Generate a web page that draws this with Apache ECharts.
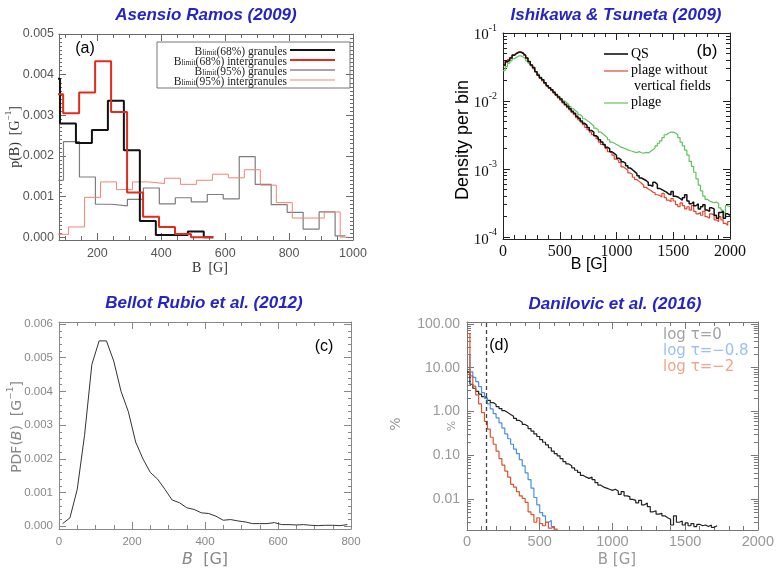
<!DOCTYPE html>
<html><head><meta charset="utf-8">
<script src="https://cdn.jsdelivr.net/npm/echarts@6/dist/echarts.min.js"></script>
<style>html,body{margin:0;padding:0;background:#fff}#c{width:777px;height:570px}</style>
</head><body><div id="c"></div>
<script>
// ---------- Panel (a) Asensio Ramos (2009) : step histograms ----------
const aBlack68Edges = [33,83,133,183,233,283,333,383,433,483,533,563];
const aBlack68Vals  = [0.0039,0.0028,0.00232,0.00264,0.00336,0.00214,0.0004,0.00005,0.00005,0.00014,0.0];
const aRed68Edges   = [43,93,143,193,243,293,343,393,443,493,543,563];
const aRed68Vals    = [0.00352,0.00305,0.00356,0.00433,0.00308,0.0011,0.0005,0.00025,0.00008,0.0,0.0];
const aGray95Edges  = [44,94,144,194,244,294,344,394,444,494,544,594,644,694,744,794,844,894,944,976];
const aGray95Vals   = [0.0014,0.00235,0.00148,0.00081,0.00077,0.00093,0.00121,0.00082,0.00097,0.00087,0.00105,0.00094,0.00198,0.0013,0.0008,0.00061,0.0002,0.00062,0.00003];
const aRed95Edges   = [60,110,160,210,260,310,360,410,460,510,560,610,660,710,760,810,860,910,960,985];
const aRed95Vals    = [0.00007,0.00025,0.00098,0.00136,0.00117,0.00136,0.00132,0.00145,0.0013,0.0014,0.00155,0.00146,0.00166,0.00128,0.00085,0.00047,0.00047,0.00062,0.0];
const aXLabels = [200,400,600,800,1000];
const aYLabels = [0,0.001,0.002,0.003,0.004,0.005];

// ---------- Panel (b) Ishikawa & Tsuneta (2009) : 20 G bins from 0 ----------
const bBinStart = 0, bBinWidth = 20;
const bQS = [0.034,0.038,0.040,0.043,0.047,0.050,0.052,0.052,0.050,0.047,
  0.043,0.038,0.034,0.031,0.027,0.024,0.022,0.0205,0.0185,0.0168,
  0.0157,0.0146,0.0135,0.0124,0.0115,0.0107,0.0097,0.0090,0.0084,0.0077,
  0.0071,0.0066,0.0060,0.0056,0.0051,0.0047,0.0044,0.0041,0.0037,0.0035,
  0.0031,0.0029,0.0027,0.0025,0.0023,0.0021,0.0020,0.0018,0.0017,0.0016,
  0.00145,0.00138,0.00128,0.00122,0.00112,0.00104,0.00098,0.00092,0.00086,0.0008,
  0.00074,0.00071,0.00068,0.00064,0.00058,0.00056,0.00064,0.0006,0.00052,0.0005,
  0.00048,0.00046,0.00043,0.00042,0.00047,0.0004,0.00039,0.00037,0.00035,0.00038,
  0.00042,0.00034,0.00031,0.00033,0.00029,0.00031,0.00026,0.00028,0.00030,0.00025,
  0.00024,0.00027,0.00026,0.00021,0.00019,0.00023,0.00024,0.00019,0.00022,0.00021];
const bPlageNoVert = [0.033,0.037,0.041,0.044,0.048,0.051,0.053,0.053,0.051,0.047,
  0.043,0.038,0.034,0.030,0.027,0.024,0.0215,0.0198,0.018,0.0165,
  0.0153,0.0142,0.0131,0.0121,0.0111,0.0103,0.0094,0.0087,0.0080,0.0074,
  0.0068,0.0063,0.0057,0.0053,0.0049,0.0045,0.0041,0.0038,0.0035,0.0032,
  0.0030,0.0028,0.0025,0.0023,0.0022,0.0020,0.0018,0.00175,0.0016,0.0014,
  0.00135,0.00125,0.00108,0.00102,0.00096,0.00088,0.00084,0.00076,0.0007,0.00066,
  0.00062,0.00058,0.00054,0.00051,0.00049,0.00046,0.00045,0.00042,0.00041,0.00039,
  0.00044,0.00038,0.00035,0.00033,0.00037,0.00034,0.0003,0.00028,0.00032,0.00029,
  0.00026,0.00028,0.00025,0.00029,0.00024,0.00022,0.00023,0.00021,0.00024,0.0002,
  0.00019,0.00022,0.00021,0.00018,0.00017,0.0002,0.00018,0.00016,0.00015,0.00017];
const bPlage = [0.028,0.032,0.036,0.039,0.042,0.044,0.046,0.046,0.044,0.042,
  0.039,0.036,0.033,0.030,0.027,0.025,0.0225,0.0205,0.0187,0.017,
  0.0158,0.0147,0.0137,0.0127,0.0117,0.0109,0.0101,0.0095,0.0089,0.0083,
  0.0077,0.0072,0.0068,0.0063,0.0059,0.0055,0.0052,0.0049,0.0046,0.0043,
  0.0040,0.0038,0.0035,0.0033,0.0031,0.0029,0.0027,0.0025,0.0024,0.0023,
  0.0022,0.0021,0.00205,0.00198,0.00192,0.00186,0.00183,0.00178,0.00175,0.00181,
  0.00174,0.00172,0.00176,0.00173,0.00182,0.00192,0.00205,0.0022,0.0024,0.0026,
  0.0029,0.0032,0.0034,0.0035,0.0035,0.0034,0.0032,0.0029,0.0025,0.0022,
  0.0019,0.0016,0.0013,0.0011,0.0009,0.00072,0.00058,0.00048,0.0004,0.00036,
  0.00034,0.00033,0.00032,0.00033,0.00031,0.00027,0.00025,0.00023,0.00029,0.00028];
const bXLabels = [0,500,1000,1500,2000];
const bYLabels = [1e-4,1e-3,1e-2,1e-1];

// ---------- Panel (c) Bellot Rubio et al. (2012) : points every 20 G from 10 G ----------
const cStart = 10, cStep = 20;
const cPDF = [0.00008,0.00025,0.0011,0.0027,0.0048,0.0055,0.0055,0.0049,0.0040,0.0034,
  0.0025,0.0020,0.0016,0.0014,0.0011,0.00078,0.0007,0.00055,0.0005,0.0004,
  0.00038,0.0003,0.00018,0.0002,0.00016,0.00013,0.00008,0.00008,0.00008,0.00011,
  0.00005,0.00005,0.00004,0.00005,0.00003,0.00002,0.00003,0.00003,0.00002,0.00005];
const cXLabels = [0,200,400,600,800];
const cYLabels = [0,0.001,0.002,0.003,0.004,0.005,0.006];

// ---------- Panel (d) Danilovic et al. (2016) : 20 G bins from 0, percent ----------
const dBinStart = 0, dBinWidth = 20;
const dTau0 = [8.0,4.2,3.4,2.9,2.5,2.2,2.0,1.8,1.6,1.45,
  1.3,1.17,1.05,0.95,0.86,0.78,0.70,0.63,0.57,0.51,
  0.46,0.41,0.36,0.31,0.27,0.23,0.20,0.175,0.15,0.125,
  0.11,0.098,0.085,0.072,0.064,0.058,0.052,0.046,0.041,0.035,
  0.032,0.030,0.032,0.028,0.024,0.021,0.019,0.018,0.017,0.016,
  0.017,0.0155,0.013,0.015,0.012,0.0115,0.010,0.0095,0.0083,0.0095,
  0.0075,0.0082,0.0068,0.0052,0.0055,0.0046,0.0048,0.0042,0.0038,0.0035,
  0.0026,0.0042,0.0030,0.0032,0.0026,0.0029,0.0025,0.0028,0.0024,0.0027,
  0.0025,0.0026,0.0024,0.0026,0.0023,0.0025];
const dTau08 = [20,8.0,6.0,4.8,3.7,2.7,2.0,1.5,1.15,0.90,
  0.72,0.55,0.42,0.31,0.24,0.18,0.14,0.11,0.08,0.058,
  0.040,0.028,0.018,0.011,0.0075,0.0050,0.0042,0.0030,0.0033,0.0024,0.0015];
const dTau2 = [60,6.5,3.8,2.4,1.5,0.95,0.60,0.40,0.26,0.18,
  0.125,0.085,0.060,0.044,0.032,0.022,0.019,0.015,0.012,0.0105,
  0.0085,0.0052,0.0045,0.0030,0.0038,0.0028,0.0025,0.0030,0.0022,0.0024,0.0021,0.0015];
const dCutB = 130;
const dXLabels = [0,500,1000,1500,2000];
const dYLabels = [0.01,0.1,1,10,100];

// ---------- helpers ----------
function stepFromEdges(edges, vals){
  const d = vals.map((v,i)=>[edges[i], v]);
  d.push([edges[edges.length-1], vals[vals.length-1]]);
  return d;
}
function stepFromBins(start, w, vals){
  const d = vals.map((v,i)=>[start+i*w, v]);
  d.push([start+vals.length*w, vals[vals.length-1]]);
  return d;
}
function range(a,b,s){const r=[];for(let v=a;v<=b+1e-9;v+=s)r.push(+v.toFixed(8));return r;}
function logMinors(lo,hi){const r=[];for(let e=lo;e<hi;e++){for(let k=2;k<=9;k++){r.push(+(k*Math.pow(10,e)).toPrecision(3));}}return r;}

const xAxes=[], yAxes=[];
function addAxes(list, dim, grid, o){
  const pos = dim==='x'?['bottom','top']:['left','right'];
  const ls = {color:o.color, width:o.lw||1};
  const base = {gridIndex:grid, type:o.type||'value', min:o.min, max:o.max, splitLine:{show:false}, silent:true};
  if (o.type==='log') base.logBase = 10;
  const idx = list.length;
  list.push(Object.assign({}, base, {position:pos[0],
    axisLine:{show:true,onZero:false,lineStyle:ls},
    axisTick:{show:true,inside:true,length:o.maj,customValues:o.majors,lineStyle:ls},
    axisLabel:Object.assign({show:true,customValues:o.majors,formatter:o.fmt,hideOverlap:false}, o.label)}));
  list.push(Object.assign({}, base, {position:pos[0],
    axisLine:{show:false,onZero:false},
    axisTick:{show:true,inside:true,length:o.min_,customValues:o.minors,lineStyle:ls},
    axisLabel:{show:false}}));
  list.push(Object.assign({}, base, {position:pos[1],
    axisLine:{show:true,onZero:false,lineStyle:ls},
    axisTick:{show:true,inside:true,length:o.maj,customValues:o.majors,lineStyle:ls},
    axisLabel:{show:false}}));
  list.push(Object.assign({}, base, {position:pos[1],
    axisLine:{show:false,onZero:false},
    axisTick:{show:true,inside:true,length:o.min_,customValues:o.minors,lineStyle:ls},
    axisLabel:{show:false}}));
  return idx;
}

const grids = [
  {left:59, top:34, width:294, height:206},
  {left:503, top:33, width:227, height:206},
  {left:59, top:322, width:292, height:207},
  {left:467, top:322, width:295, height:208}
];

const axA = addAxes(xAxes,'x',0,{min:80,max:1000,majors:aXLabels,minors:range(100,1000,50),maj:7,min_:4,color:'#6a6a6a',
  fmt:v=>String(v),label:{color:'#555',fontSize:12.5,fontFamily:'Liberation Sans',margin:7}});
const ayA = addAxes(yAxes,'y',0,{min:-0.00007,max:0.005,majors:aYLabels,minors:range(0,0.005,0.0001),maj:7,min_:3,color:'#6a6a6a',
  fmt:v=>v.toFixed(3),label:{color:'#555',fontSize:12.5,fontFamily:'Liberation Sans',margin:5}});
const axB = addAxes(xAxes,'x',1,{min:0,max:2000,majors:bXLabels,minors:range(0,2000,100),maj:7,min_:4,color:'#222',
  fmt:v=>String(v),label:{color:'#111',fontSize:16,fontFamily:'Liberation Serif',margin:5}});
const ayB = addAxes(yAxes,'y',1,{type:'log',min:9.4e-5,max:0.1,majors:bYLabels,minors:logMinors(-4,-1),maj:7,min_:4,color:'#222',
  fmt:v=>'{b|10}{s|'+Math.round(Math.log10(v))+'}',
  label:{color:'#111',margin:6,rich:{b:{fontSize:15,fontFamily:'Liberation Serif',lineHeight:20,verticalAlign:'bottom'},s:{fontSize:10,fontFamily:'Liberation Serif',lineHeight:10,verticalAlign:'top'}}}});
const axC = addAxes(xAxes,'x',2,{min:0,max:800,majors:cXLabels,minors:range(0,800,50),maj:7,min_:4,color:'#888',
  fmt:v=>String(v),label:{color:'#888',fontSize:11.5,fontFamily:'Liberation Sans',margin:7}});
const ayC = addAxes(yAxes,'y',2,{min:-0.00008,max:0.00606,majors:cYLabels,minors:range(0,0.006,0.0002),maj:7,min_:3,color:'#888',
  fmt:v=>v.toFixed(3),label:{color:'#888',fontSize:11.5,fontFamily:'Liberation Sans',margin:6}});
const axD = addAxes(xAxes,'x',3,{min:0,max:2000,majors:dXLabels,minors:range(0,2000,100),maj:7,min_:4,color:'#777',
  fmt:v=>String(v),label:{color:'#999',fontSize:14.5,fontFamily:'Liberation Sans',margin:4}});
const ayD = addAxes(yAxes,'y',3,{type:'log',min:0.002,max:110,majors:dYLabels,minors:logMinors(-3,2),maj:7,min_:4,color:'#777',
  fmt:v=>v.toFixed(2),label:{color:'#999',fontSize:14,fontFamily:'Liberation Sans',margin:7}});

function line(name, xi, yi, data, color, width, extra){
  return Object.assign({name, type:'line', xAxisIndex:xi, yAxisIndex:yi, data, showSymbol:false, symbol:'none',
    step:'end', animation:false, silent:true, clip:true, lineStyle:{color, width}, itemStyle:{color}}, extra||{});
}

const series = [
  line('Blimit(95%) granules', axA, ayA, stepFromEdges(aGray95Edges,aGray95Vals), '#7d7d7d', 1.2),
  line('Blimit(95%) intergranules', axA, ayA, stepFromEdges(aRed95Edges,aRed95Vals), '#f2837a', 1),
  line('Blimit(68%) granules', axA, ayA, stepFromEdges(aBlack68Edges,aBlack68Vals), '#111', 2),
  line('Blimit(68%) intergranules', axA, ayA, stepFromEdges(aRed68Edges,aRed68Vals), '#e52b1e', 2),

  line('plage', axB, ayB, stepFromBins(bBinStart,bBinWidth,bPlage), '#5ec45e', 1.2),
  line('plage without vertical fields', axB, ayB, stepFromBins(bBinStart,bBinWidth,bPlageNoVert), '#e8442c', 1.2),
  line('QS', axB, ayB, stepFromBins(bBinStart,bBinWidth,bQS), '#111', 1.5),

  line('PDF', axC, ayC, cPDF.map((v,i)=>[cStart+i*cStep, v]), '#333', 1, {step:false}),

  line('log tau=0', axD, ayD, stepFromBins(dBinStart,dBinWidth,dTau0), '#222', 1.2, {
    markLine:{symbol:'none',silent:true,animation:false,label:{show:false},
      lineStyle:{type:[4,3],color:'#444',width:1.3},data:[{xAxis:dCutB}]}}),
  line('log tau=-0.8', axD, ayD, stepFromBins(dBinStart,dBinWidth,dTau08), '#4a8fe6', 1.2),
  line('log tau=-2', axD, ayD, stepFromBins(dBinStart,dBinWidth,dTau2), '#e0532c', 1.2)
];

// ---------- text & legends ----------
const blue = '#2525c6';
function T(text,x,y,o){o=o||{};const st={text,x:0,y:0,fill:o.fill||'#000',fontSize:o.size||12,fontFamily:o.family||'Liberation Sans',
  fontWeight:o.weight||'normal',fontStyle:o.style||'normal',align:o.align||'center',verticalAlign:o.va||'middle'};
  if(o.rich)st.rich=o.rich;
  return {type:'text',x,y,rotation:o.rot||0,silent:true,z:100,style:st};}
function L(x1,y1,x2,y2,stroke,w){return {type:'line',silent:true,z:100,shape:{x1,y1,x2,y2},style:{stroke,lineWidth:w}};}
const titleStyle = {fill:blue,size:17,weight:'bold',style:'italic',family:'Liberation Sans'};
const subRich = {n:{fontSize:11.5,fontFamily:'Liberation Serif',fill:'#222',lineHeight:11,verticalAlign:'top'},
                 s:{fontSize:7.5,fontFamily:'Liberation Serif',fill:'#222',lineHeight:8,padding:[6,0,0,0],verticalAlign:'bottom'}};
const supRichA = {n:{fontSize:14,fontFamily:'Liberation Serif',fill:'#333',lineHeight:18,verticalAlign:'bottom'},
                  s:{fontSize:9,fontFamily:'Liberation Serif',fill:'#333',lineHeight:10,verticalAlign:'top'}};
const supRichC = {n:{fontSize:14,fontFamily:'DejaVu Sans',fill:'#888',lineHeight:18,verticalAlign:'bottom'},
                  i:{fontSize:14,fontFamily:'DejaVu Sans',fontStyle:'italic',fill:'#888',lineHeight:18,verticalAlign:'bottom'},
                  s:{fontSize:9,fontFamily:'DejaVu Sans',fill:'#888',lineHeight:10,verticalAlign:'top'}};
const graphics = [
  T('Asensio Ramos (2009)',206,15,titleStyle),
  T('Ishikawa & Tsuneta (2009)',616,15,titleStyle),
  T('Bellot Rubio et al. (2012)',204,303,titleStyle),
  T('Danilovic et al. (2016)',615,304,titleStyle),
  // panel a
  T('(a)',85,49,{size:16}),
  {type:'rect',silent:true,z:99,shape:{x:157,y:42,width:193,height:46},style:{fill:'rgba(0,0,0,0)',stroke:'#777',lineWidth:1}},
  T('{n|B}{s|limit}{n|(68%) granules}',287,51.5,{align:'right',rich:subRich}),
  T('{n|B}{s|limit}{n|(68%) intergranules}',287,61.5,{align:'right',rich:subRich}),
  T('{n|B}{s|limit}{n|(95%) granules}',287,71.5,{align:'right',rich:subRich}),
  T('{n|B}{s|limit}{n|(95%) intergranules}',287,81.5,{align:'right',rich:subRich}),
  L(290,50,335,50,'#111',2), L(290,60,335,60,'#e52b1e',2), L(290,70,335,70,'#888',1.5), L(290,80,335,80,'#f2837a',1),
  T('{n|p(B)  [G}{s|−1}{n|]}',13,137,{rot:Math.PI/2,rich:supRichA}),
  T('B  [G]',210,268,{size:14,family:'Liberation Serif',fill:'#333'}),
  // panel b
  T('(b)',707,51,{size:17}),
  L(604,54,628,54,'#111',1.6), L(604,71,628,71,'#e8442c',1.2), L(604,103,628,103,'#5ec45e',1.2),
  T('QS',631,54,{align:'left',size:14,family:'Liberation Serif'}),
  T('plage without',631,70,{align:'left',size:14,family:'Liberation Serif'}),
  T('vertical fields',634,86,{align:'left',size:14,family:'Liberation Serif'}),
  T('plage',631,102,{align:'left',size:14,family:'Liberation Serif'}),
  T('Density per bin',463,140,{rot:Math.PI/2,size:18}),
  T('B [G]',589,265,{size:16}),
  // panel c
  T('(c)',324,347,{size:16}),
  T('{n|PDF(}{i|B}{n|)  [G}{s|−1}{n|]}',15,427,{rot:Math.PI/2,rich:supRichC}),
  T('{i|B}{n|  [G]}',205,560,{rich:{i:{fontSize:16,fontFamily:'DejaVu Sans',fontStyle:'italic',fill:'#888'},n:{fontSize:16,fontFamily:'DejaVu Sans',fill:'#888'}}}),
  // panel d
  T('(d)',499,346,{size:16}),
  T('log τ=0',663,335,{align:'left',size:15,family:'DejaVu Sans',fill:'#a3a3a3'}),
  T('log τ=−0.8',663,351,{align:'left',size:15,family:'DejaVu Sans',fill:'#9dbff0'}),
  T('log τ=−2',663,367,{align:'left',size:15,family:'DejaVu Sans',fill:'#f0a68c'}),
  T('%',396,424,{rot:Math.PI/2,size:14,family:'DejaVu Sans',fill:'#999'}),
  T('%',452,426,{rot:Math.PI/2,size:11,family:'DejaVu Sans',fill:'#999'}),
  T('B [G]',617,560,{size:15,family:'DejaVu Sans',fill:'#999'})
];

const chart = echarts.init(document.getElementById('c'), null, {renderer:'canvas'});
chart.setOption({animation:false, backgroundColor:'#fff', grid:grids, xAxis:xAxes, yAxis:yAxes, series, graphic:graphics});
</script></body></html>
